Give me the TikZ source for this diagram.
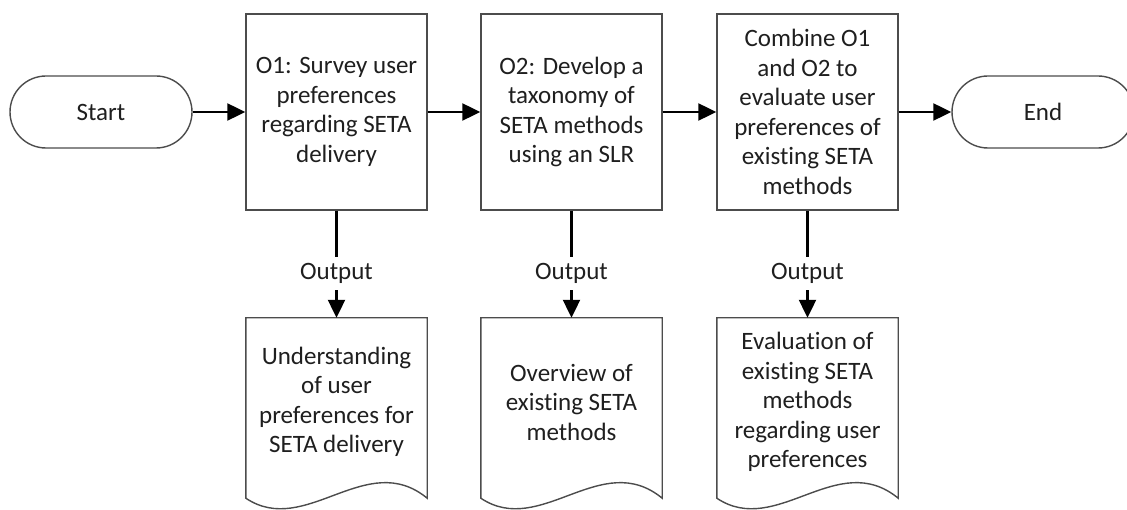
\documentclass[tikz,border=0pt]{standalone}
\usepackage{fontspec}
\setmainfont{Carlito}[Ligatures=CommonOff]
\usetikzlibrary{arrows.meta}
\begin{document}
\begin{tikzpicture}[x=1pt,y=-1pt,
  every node/.style={font=\fontsize{25}{29.5}\selectfont, text=black!88},
  term/.style={draw=black!70, line width=1.4pt, rounded corners=36pt,
    minimum width=182pt, minimum height=72pt, inner sep=0pt},
  procbox/.style={draw=black!70, line width=1.4pt, minimum width=181pt,
    minimum height=196pt, align=center, inner sep=0pt},
  docnode/.style={minimum width=181pt, minimum height=168pt, align=center, inner sep=0pt},
  docline/.style={draw=black!70, line width=1.4pt},
  conn/.style={line width=2.2pt},
  flow/.style={line width=2.2pt, -{Triangle[length=18pt,width=17pt]}},
  lbl/.style={inner sep=0pt, minimum height=33pt}
]
\clip (0,0) rectangle (1127,510);
\fill[white] (0,0) rectangle (1127,510);

% terminals
\node[term] (start) at (101,112) {Start};
\node[term] (end) at (1043,112) {End};

% process steps
\node[procbox] (b1) at (336.5,112) {O1: Survey user\\preferences\\regarding SETA\\delivery};
\node[procbox] (b2) at (571.5,112) {O2: Develop a\\taxonomy of\\SETA methods\\using an SLR};
\node[procbox] (b3) at (807.5,112) {Combine O1\\and O2 to\\evaluate user\\preferences of\\existing SETA\\methods};

% output labels
\node[lbl] (o1) at (336.5,273.5) {Output};
\node[lbl] (o2) at (571.5,273.5) {Output};
\node[lbl] (o3) at (807.5,273.5) {Output};

% output documents
\node[docnode] (d1) at (336.5,402) {Understanding\\of user\\preferences for\\SETA delivery};
\node[docnode] (d2) at (571.5,402) {Overview of\\existing SETA\\methods};
\node[docnode] (d3) at (807.5,402) {Evaluation of\\existing SETA\\methods\\regarding user\\preferences};
\foreach \d in {d1,d2,d3}{
  \draw[docline] (\d.north west) -- (\d.north east) -- ([yshift=-12pt]\d.south east)
    .. controls +(-61,-50) and +(60,40) .. ([yshift=-12pt]\d.south west) -- cycle;
}

% main flow
\draw[flow] (start) -- (b1);
\draw[flow] (b1) -- (b2);
\draw[flow] (b2) -- (b3);
\draw[flow] (b3) -- (end);

% outputs
\foreach \b/\o/\d in {b1/o1/d1,b2/o2/d2,b3/o3/d3}{
  \draw[conn] (\b) -- (\o);
  \draw[flow] (\o) -- (\d.north);
}
\end{tikzpicture}
\end{document}
